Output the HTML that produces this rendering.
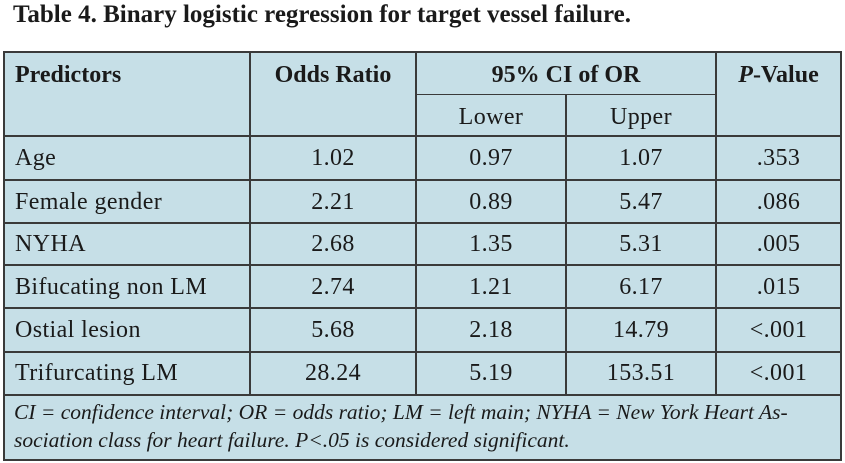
<!DOCTYPE html>
<html><head><style>
body{margin:0;width:845px;height:463px;background:#fff;font-family:"Liberation Serif",serif;color:#1a1a1a;position:relative;overflow:hidden}
.t{position:absolute;left:13px;top:1px;font-size:25px;font-weight:bold;white-space:nowrap}
.box{position:absolute;left:3px;top:51px;width:835px;height:406px;background:#c6dfe7;border:2px solid #3a3a3a}
.h{position:absolute;background:#3a3a3a;height:2px}
.v{position:absolute;background:#3a3a3a;width:2px}
.c{position:absolute;font-size:24px;white-space:nowrap;line-height:26px;letter-spacing:0.4px}
.b{font-weight:bold;letter-spacing:0}
.fn{position:absolute;left:14px;top:398px;font-size:21.5px;font-style:italic;line-height:28px;white-space:nowrap}
</style></head><body>
<div class="t">Table 4. Binary logistic regression for target vessel failure.</div>
<div class="box"></div>
<div class="h" style="left:415px;top:94px;width:301px;height:1px"></div>
<div class="h" style="left:3px;top:135px;width:839px"></div>
<div class="h" style="left:3px;top:179px;width:839px"></div>
<div class="h" style="left:3px;top:222px;width:839px"></div>
<div class="h" style="left:3px;top:264px;width:839px"></div>
<div class="h" style="left:3px;top:307px;width:839px"></div>
<div class="h" style="left:3px;top:351px;width:839px"></div>
<div class="h" style="left:3px;top:394px;width:839px"></div>
<div class="v" style="left:249px;top:51px;height:345px"></div>
<div class="v" style="left:415px;top:51px;height:345px"></div>
<div class="v" style="left:565px;top:95px;height:301px"></div>
<div class="v" style="left:715px;top:51px;height:345px"></div>
<div class="c b" style="left:15px;top:62px">Predictors</div>
<div class="c b" style="left:250px;width:166px;text-align:center;top:62px">Odds Ratio</div>
<div class="c b" style="left:416px;width:300px;text-align:center;top:62px">95% CI of OR</div>
<div class="c b" style="left:716px;width:125px;text-align:center;top:62px"><i>P</i>-Value</div>
<div class="c" style="left:416px;width:150px;text-align:center;top:104px">Lower</div>
<div class="c" style="left:566px;width:150px;text-align:center;top:104px">Upper</div>
<div class="c" style="left:15px;top:145px">Age</div>
<div class="c" style="left:250px;width:166px;text-align:center;top:145px">1.02</div>
<div class="c" style="left:416px;width:150px;text-align:center;top:145px">0.97</div>
<div class="c" style="left:566px;width:150px;text-align:center;top:145px">1.07</div>
<div class="c" style="left:716px;width:125px;text-align:center;top:145px">.353</div>
<div class="c" style="left:15px;top:189px">Female gender</div>
<div class="c" style="left:250px;width:166px;text-align:center;top:189px">2.21</div>
<div class="c" style="left:416px;width:150px;text-align:center;top:189px">0.89</div>
<div class="c" style="left:566px;width:150px;text-align:center;top:189px">5.47</div>
<div class="c" style="left:716px;width:125px;text-align:center;top:189px">.086</div>
<div class="c" style="left:15px;top:231px">NYHA</div>
<div class="c" style="left:250px;width:166px;text-align:center;top:231px">2.68</div>
<div class="c" style="left:416px;width:150px;text-align:center;top:231px">1.35</div>
<div class="c" style="left:566px;width:150px;text-align:center;top:231px">5.31</div>
<div class="c" style="left:716px;width:125px;text-align:center;top:231px">.005</div>
<div class="c" style="left:15px;top:274px">Bifucating non LM</div>
<div class="c" style="left:250px;width:166px;text-align:center;top:274px">2.74</div>
<div class="c" style="left:416px;width:150px;text-align:center;top:274px">1.21</div>
<div class="c" style="left:566px;width:150px;text-align:center;top:274px">6.17</div>
<div class="c" style="left:716px;width:125px;text-align:center;top:274px">.015</div>
<div class="c" style="left:15px;top:317px">Ostial lesion</div>
<div class="c" style="left:250px;width:166px;text-align:center;top:317px">5.68</div>
<div class="c" style="left:416px;width:150px;text-align:center;top:317px">2.18</div>
<div class="c" style="left:566px;width:150px;text-align:center;top:317px">14.79</div>
<div class="c" style="left:716px;width:125px;text-align:center;top:317px">&lt;.001</div>
<div class="c" style="left:15px;top:360px">Trifurcating LM</div>
<div class="c" style="left:250px;width:166px;text-align:center;top:360px">28.24</div>
<div class="c" style="left:416px;width:150px;text-align:center;top:360px">5.19</div>
<div class="c" style="left:566px;width:150px;text-align:center;top:360px">153.51</div>
<div class="c" style="left:716px;width:125px;text-align:center;top:360px">&lt;.001</div>
<div class="fn">CI = confidence interval; OR = odds ratio; LM = left main; NYHA = New York Heart As-<br>sociation class for heart failure. P&lt;.05 is considered significant.</div>
</body></html>
